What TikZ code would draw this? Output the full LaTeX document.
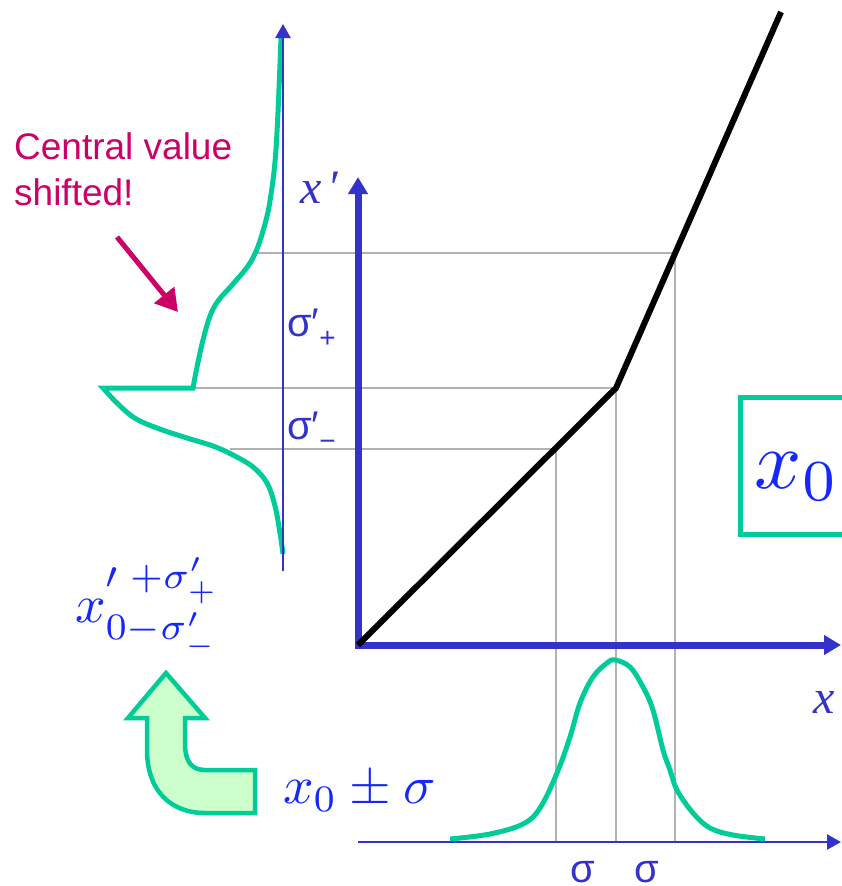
\documentclass[tikz,border=0pt]{standalone}
\usepackage{fontspec}
\newfontfamily\arialf{Liberation Sans}
\newfontfamily\timesf{Liberation Serif}
\usetikzlibrary{arrows.meta}
\definecolor{axblue}{RGB}{51,51,204}
\definecolor{curvegreen}{RGB}{0,204,153}
\definecolor{magred}{RGB}{204,0,102}
\definecolor{mathblue}{RGB}{20,40,250}
\definecolor{gridgrey}{RGB}{178,178,178}
\definecolor{arrowfill}{RGB}{204,255,204}
\tikzset{
  gridline/.style={gridgrey, line width=2pt},
  thickaxis/.style={axblue, line width=7pt, -{Triangle[length=17pt,width=19pt]}},
  thinaxis/.style={axblue, line width=2.5pt, -{Triangle[length=14pt,width=15pt]}},
  distcurve/.style={curvegreen, line width=5pt},
  sigmalbl/.style={axblue, font=\arialf\fontsize{40}{44}\selectfont, inner sep=0pt},
  axlbl/.style={axblue, font=\timesf\itshape\fontsize{48}{52}\selectfont, inner sep=0pt},
  mathlbl/.style={mathblue, font=\fontsize{10}{12}\selectfont, inner sep=0pt, scale=5.35},
  notelbl/.style={magred, font=\arialf\fontsize{37}{44}\selectfont, inner sep=0pt}
}
\newcommand{\subsym}[1]{\raisebox{-11pt}{\fontsize{28}{28}\selectfont #1}}
\begin{document}
\begin{tikzpicture}[x=1pt,y=-1pt]
\useasboundingbox (0,0) rectangle (841,886);

% grid lines
\draw[gridline] (257,253) -- (675,253);
\draw[gridline] (193,388) -- (616,388);
\draw[gridline] (230,449) -- (556,449);
\draw[gridline] (556,449) -- (556,843);
\draw[gridline] (616,388) -- (616,843);
\draw[gridline] (675,253) -- (675,843);

% left distribution (transformed)
\draw[distcurve, line join=miter] plot[smooth, tension=0.6] coordinates {(281,38) (278,112) (275,162) (270,201) (265,224) (257,249) (248,266) (233,284) (218,301) (210,316) (203,340) (197,367) (193,388)}
  -- (103,388) -- (112,398)
  plot[smooth, tension=0.6] coordinates {(112,398) (133,417) (157,428) (187,438) (213,446) (233,455) (253,467) (267,483) (275,506) (280,533) (283,554)};

% left thin axis
\coordinate (lb) at (283,571);
\coordinate (lt) at (283,24);
\draw[thinaxis] (lb) -- (lt);

% main axes
\coordinate (o) at (358,645);
\coordinate (ytip) at (358,177);
\coordinate (xtip) at (841,645);
\draw[thickaxis] (358,648.5) -- (ytip);
\draw[thickaxis] (354.5,645) -- (xtip);

% transformation function
\coordinate (kink) at (616,388);
\coordinate (fend) at (781,12);
\draw[black, line width=6pt] (o) -- (kink) -- (fend);

% lower axis and gaussian
\coordinate (b0) at (358,842);
\coordinate (b1) at (841,842);
\draw[thinaxis] (b0) -- (b1);
\draw[distcurve] plot[smooth, tension=0.6] coordinates {(450,839) (490,834) (523,824) (540,808) (557,773) (570,737) (580,703) (593,677) (607,663) (615,660) (630,667) (643,687) (653,710) (663,750) (670,770) (677,790) (693,813) (710,828) (733,835) (765,839)};

% labels
\node[sigmalbl, anchor=base west] (sp) at (287,336) {σ′\subsym{+}};
\node[sigmalbl, anchor=base west] (sm) at (287,439) {σ′\subsym{−}};
\node[sigmalbl, anchor=base] (s1) at (583,882) {σ};
\node[sigmalbl, anchor=base] (s2) at (647,882) {σ};
\node[axlbl, anchor=base west] (xpl) at (300,203) {x\hspace{6pt}′};
\node[axlbl, anchor=base west] (xl) at (813,713) {x};

\node[notelbl, anchor=base west] (cv1) at (14,159) {Central value};
\node[notelbl, anchor=base west] (cv2) at (14,205) {shifted!};
\coordinate (ma0) at (117,237);
\coordinate (ma1) at (178,312);
\draw[magred, line width=5pt, -{Triangle[length=22pt,width=25pt]}] (ma0) -- (ma1);

\node[mathlbl, anchor=base west] (xpm) at (282,803) {$x_0 \pm \sigma$};
\node[mathlbl, anchor=base west] (xp0) at (74,622) {$x^{\prime\;+\sigma'_+}_{0-\sigma'_-}$};

% boxed x0
\draw[curvegreen, line width=5pt] (846,397) -- (740,397) -- (740,534) -- (846,534);
\node[mathlbl, scale=1.55, anchor=base west] (x0) at (753,488) {$x_0$};

% curved green arrow
\draw[curvegreen, line width=4.5pt, fill=arrowfill, line join=miter]
  (166,673) -- (205,718) -- (185,718) -- (185,747)
  .. controls (186,762) and (192,770) .. (205,770)
  -- (255,770) -- (255,813) -- (205,813)
  .. controls (170,813) and (147,790) .. (147,750)
  -- (147,718) -- (128,718) -- cycle;
\end{tikzpicture}
\end{document}
